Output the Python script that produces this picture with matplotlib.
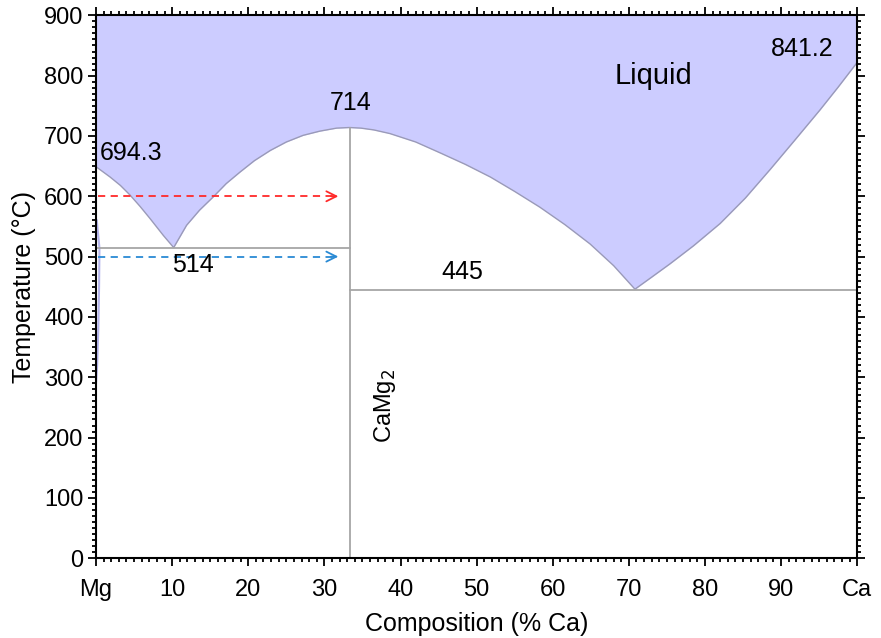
import numpy as np
import matplotlib.pyplot as plt
from matplotlib.ticker import MultipleLocator

plt.rcParams['font.family'] = ['Liberation Sans', 'DejaVu Sans']

# liquidus (composition % Ca, temperature C)
liq_x = [0, 1.84, 3.2, 4.47, 5.8, 7.1, 8.85, 10.2,
         11.9, 13.6, 15.4, 17.1, 18.9, 20.8, 22.9, 25, 27.2, 29.4, 31.6, 33.3,
         34.8, 36.5, 38.6, 42, 45.2, 48.5, 51.8, 55, 58.3, 61.6, 64.9, 68, 70.8,
         73, 75.4, 78.5, 82, 85.3, 88.6, 91.8, 95.1, 97.5, 100]
liq_t = [649, 632, 618, 602, 583, 563, 535, 515,
         552, 577, 599, 621, 640, 659, 676, 690, 701, 708, 713, 714,
         713, 710, 704, 690, 672, 653, 632, 608, 582, 553, 521, 485, 446,
         466, 488, 518, 555, 597, 645, 693, 743, 781, 822]

# Mg solid solution (solvus)
mg_x = [0.1, 0.45, 0.4, 0.3, 0.15, 0]
mg_t = [560, 514, 450, 380, 320, 290]

compound_x = 33.3
eut1_t = 514
eut2_t = 445

xtick_pos = [0, 10, 20, 30, 40, 50, 60, 70, 80, 90, 100]
xtick_lab = ['Mg', '10', '20', '30', '40', '50', '60', '70', '80', '90', 'Ca']

labels = [('694.3', 0.5, 671, 'left'),
          ('714', 33.5, 754, 'center'),
          ('514', 12.7, 486, 'center'),
          ('445', 48.1, 474, 'center'),
          ('841.2', 92.8, 844, 'center')]

fig = plt.figure(figsize=(8.81, 6.38), dpi=100)
ax = fig.add_axes([0.109, 0.125, 0.864, 0.851])

ax.fill_between(liq_x, liq_t, 900, color='#ccccff', lw=0)
ax.plot(liq_x, liq_t, color='#9a9ab8', lw=1)
ax.plot(mg_x, mg_t, color='#b4b4ec', lw=1.5)

line_c = '#a6a6a6'
ax.plot([0, compound_x], [eut1_t, eut1_t], color=line_c, lw=1.3)
ax.plot([compound_x, 100], [eut2_t, eut2_t], color=line_c, lw=1.3)
ax.plot([compound_x, compound_x], [0, 714], color=line_c, lw=1.3)

# arrows
for temp, c in [(600, '#ff2a2a'), (500, '#2a8ad4')]:
    ax.plot([0.3, 31.8], [temp, temp], color=c, ls=(0, (4, 3)), lw=1.3)
    ax.annotate('', xy=(32.2, temp), xytext=(30.5, temp),
                arrowprops=dict(arrowstyle='->', color=c, lw=1.3,
                                mutation_scale=18))

for txt, x, y, ha in labels:
    ax.text(x, y, txt, fontsize=18, ha=ha, va='center')
ax.text(73.3, 800, 'Liquid', fontsize=21, ha='center', va='center')
ax.text(38.0, 252, 'CaMg$_2$', fontsize=17, rotation=90,
        ha='center', va='center')

ax.set_xlim(0, 100)
ax.set_ylim(0, 900)
ax.set_xticks(xtick_pos)
ax.set_xticklabels(xtick_lab)
ax.yaxis.set_major_locator(MultipleLocator(100))
ax.xaxis.set_minor_locator(MultipleLocator(1))
ax.yaxis.set_minor_locator(MultipleLocator(10))
ax.tick_params(which='both', direction='out', top=True, right=True,
               labelsize=17, width=1.3)
ax.tick_params(which='major', length=6)
ax.tick_params(which='minor', length=3)
ax.tick_params(axis='x', which='major', pad=9)
ax.tick_params(axis='y', which='major', pad=3)
for s in ax.spines.values():
    s.set_linewidth(1.5)

ax.set_xlabel('Composition (% Ca)', fontsize=18, labelpad=8)
ax.set_ylabel('Temperature (\u00b0C)', fontsize=18, labelpad=6)

fig.savefig('out.png', dpi=100)
